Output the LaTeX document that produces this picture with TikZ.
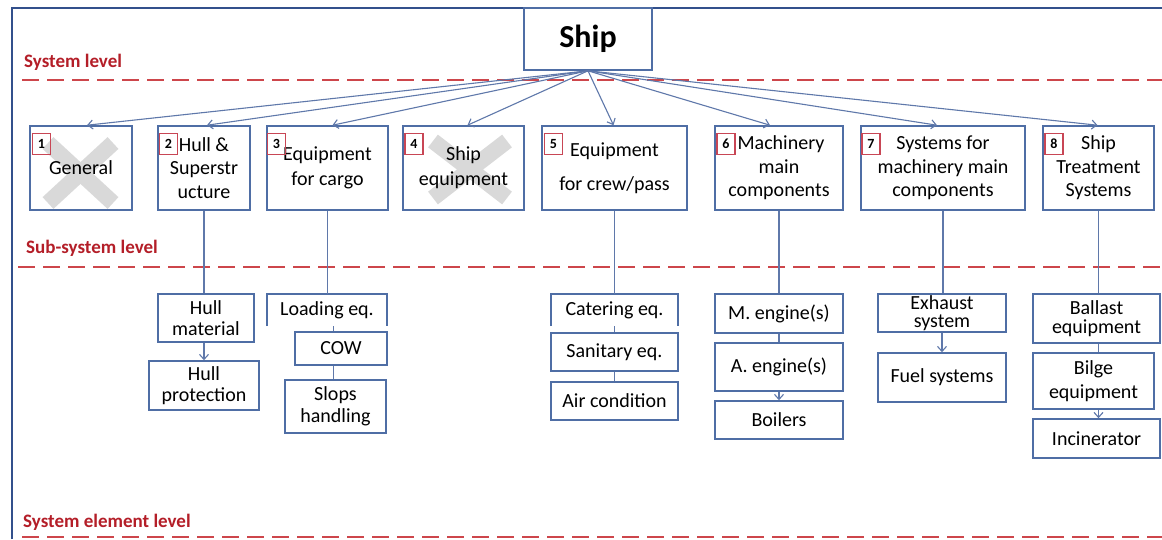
\documentclass[tikz,border=0pt]{standalone}
\usepackage{fontspec}
\setmainfont{Carlito}
\usetikzlibrary{arrows.meta,calc}
\definecolor{boxblue}{RGB}{79,110,165}
\definecolor{frameblue}{RGB}{50,80,140}
\definecolor{lvlred}{RGB}{180,30,40}
\definecolor{dashred}{RGB}{205,70,75}
\definecolor{numred}{RGB}{200,70,85}
\definecolor{linkblue}{RGB}{95,120,170}
\begin{document}
\begin{tikzpicture}[x=1pt,y=-1pt,
 bx/.style={draw=boxblue, line width=1.6pt, inner sep=0pt, align=center, font=\fontsize{20}{23.5}\selectfont},
 numbox/.style={draw=numred, line width=1.6pt, minimum width=18pt, minimum height=21pt, inner sep=0pt, font=\bfseries\fontsize{14}{14}\selectfont},
 lvl/.style={text=lvlred, font=\bfseries\fontsize{19}{19}\selectfont, anchor=west, inner sep=0pt},
 lvlline/.style={draw=dashred, line width=2.6pt, dash pattern=on 17pt off 8pt},
 link/.style={draw=linkblue, line width=1.1pt},
 arr/.style={link, -{Straight Barb[length=5pt,width=9pt]}},
 xmark/.style={draw=gray!30, line width=16pt}
]
\useasboundingbox (0,0) rectangle (1162,539);
\fill[white] (0,0) rectangle (1162,539);

% frame
\draw[frameblue, line width=2pt] (12,539) -- (12,8) -- (1162,8);

% level labels and lines
\node[lvl] (lv1) at (24,62) {System level};
\node[lvl] (lv2) at (26,248) {Sub-system level};
\node[lvl] (lv3) at (23,522) {System element level};
\draw[lvlline] (22,80) -- (1162,80);
\draw[lvlline] (18,267) -- (1162,267);
\draw[lvlline] (22,537) -- (1162,537);

% grey crosses
\draw[xmark] (48,143) -- (113,203);
\draw[xmark] (113,143) -- (48,203);
\draw[xmark] (433,141) -- (507,198);
\draw[xmark] (507,141) -- (433,198);

% top node
\node[bx, minimum width=128pt, minimum height=62pt, font=\bfseries\fontsize{32}{32}\selectfont] (ship) at (588,39) {Ship};

% level-1 boxes
\node[bx, minimum width=102pt, minimum height=84pt] (gen) at (81,168) {General};
\node[bx, minimum width=92pt, minimum height=84pt] (hull) at (204,168) {Hull \&\\Superstr\\ucture};
\node[bx, minimum width=121pt, minimum height=84pt] (cargo) at (327.5,168) {Equipment\\[1.5pt]for cargo};
\node[bx, minimum width=121pt, minimum height=84pt] (sheq) at (463.5,168) {Ship\\[1.5pt]equipment};
\node[bx, minimum width=145pt, minimum height=84pt] (crew) at (614.5,168) {Equipment\\[11pt]for crew/pass};
\node[bx, minimum width=128pt, minimum height=84pt] (mach) at (779,168) {\hspace*{4pt}Machinery\\main\\components};
\node[bx, minimum width=164pt, minimum height=84pt] (sysm) at (943,168) {Systems for\\machinery main\\components};
\node[bx, minimum width=111pt, minimum height=84pt] (treat) at (1098.5,168) {Ship\\Treatment\\Systems};

% number boxes
\node[numbox] (n1) at (41.5,144) {1};
\node[numbox] (n2) at (168.5,144) {2};
\node[numbox] (n3) at (276.5,144) {3};
\node[numbox] (n4) at (414,144) {4};
\node[numbox] (n5) at (553.5,144) {5};
\node[numbox] (n6) at (726,144) {6};
\node[numbox] (n7) at (871,144) {7};
\node[numbox] (n8) at (1054,144) {8};

% arrows from Ship
\draw[arr] (ship.south) -- ($(gen.north)+(6,0)$);
\draw[arr] (ship.south) -- ($(hull.north)+(3,0)$);
\draw[arr] (ship.south) -- ($(cargo.north)+(5,0)$);
\draw[arr] (ship.south) -- ($(sheq.north)+(4,0)$);
\draw[arr] (ship.south) -- ($(crew.north)+(-1,0)$);
\draw[arr] (ship.south) -- ($(mach.north)+(-9,0)$);
\draw[arr] (ship.south) -- ($(sysm.north)+(-6,0)$);
\draw[arr] (ship.south) -- ($(treat.north)+(-1,0)$);

% level-2 boxes
\node[bx, minimum width=96pt, minimum height=48pt] (hm) at (206,318) {Hull\\[-2pt]material};
\node[bx, minimum width=110pt, minimum height=49pt] (hp) at (204,385.5) {Hull\\[-2pt]protection};

\node[inner sep=0pt, minimum width=120pt, minimum height=32pt, font=\fontsize{20}{23.5}\selectfont] (ld) at (327,310) {Loading eq.};
\draw[boxblue, line width=1.6pt] (ld.south west) |- (ld.north east) -- (ld.south east);
\node[bx, minimum width=92pt, minimum height=33pt] (cow) at (341,348.5) {COW};
\node[bx, minimum width=101pt, minimum height=53pt] (slp) at (335.5,406.5) {Slops\\[-1pt]handling};

\node[inner sep=0pt, minimum width=127pt, minimum height=32pt, font=\fontsize{20}{23.5}\selectfont] (cat) at (614.5,310) {Catering eq.};
\draw[boxblue, line width=1.6pt] (cat.south west) |- (cat.north east) -- (cat.south east);
\node[bx, minimum width=127pt, minimum height=38pt] (san) at (614.5,352) {Sanitary eq.};
\node[bx, minimum width=127pt, minimum height=38pt] (air) at (614.5,401) {Air condition};

\node[bx, minimum width=128pt, minimum height=39pt] (me) at (779,313.5) {M. engine(s)};
\node[bx, minimum width=128pt, minimum height=48pt] (ae) at (779,367) {A. engine(s)};
\node[bx, minimum width=128pt, minimum height=38pt] (boi) at (779,420) {Boilers};

\node[bx, minimum width=128pt, minimum height=38pt] (exh) at (942,313) {Exhaust\\[-5pt]system};
\node[bx, minimum width=128pt, minimum height=49pt] (fuel) at (942,377.5) {Fuel systems};

\node[bx, minimum width=127pt, minimum height=49pt] (ball) at (1096.5,318.5) {Ballast\\[-4pt]equipment};
\node[bx, minimum width=121pt, minimum height=56pt] (bil) at (1093.5,381) {Bilge\\equipment};
\node[bx, minimum width=127pt, minimum height=39pt] (inc) at (1096.5,438.5) {Incinerator};

% level-2 connectors
\draw[link] (hull.south) -- (hull.south |- hm.north);
\draw[arr] (hp.north |- hm.south) -- (hp.north);
\draw[link] (cargo.south) -- (cargo.south |- ld.north);
\draw[link] ($(slp.north |- ld.south)+(-2,0)$) -- ($(slp.north |- cow.north)+(-2,0)$);
\draw[link] ($(slp.north |- cow.south)+(-2,0)$) -- ($(slp.north)+(-2,0)$);
\draw[link] (crew.south) -- (crew.south |- cat.north);
\draw[link] (cat.south) -- (san.north);
\draw[link] (san.south) -- (air.north);
\draw[link] (mach.south) -- (me.north);
\draw[link] (me.south) -- (ae.north);
\draw[arr] (ae.south) -- (boi.north);
\draw[link] (sysm.south) -- (sysm.south |- exh.north);
\draw[arr] (exh.south) -- (fuel.north);
\draw[link] (treat.south) -- (treat.south |- ball.north);
\draw[link] (treat.south |- ball.south) -- (treat.south |- bil.north);
\draw[arr] (treat.south |- bil.south) -- (treat.south |- inc.north);
\end{tikzpicture}
\end{document}
